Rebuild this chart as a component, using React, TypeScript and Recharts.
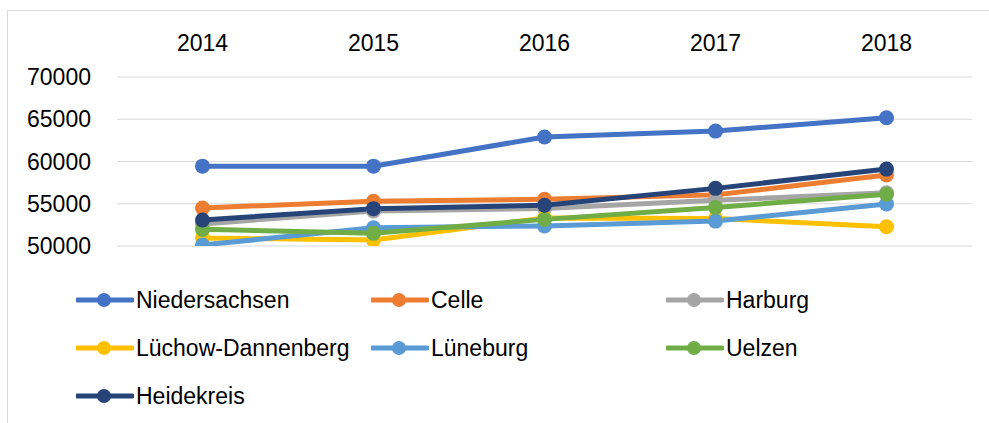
import { CartesianGrid, Line, LineChart, XAxis, YAxis } from "recharts";

const years = ["2014", "2015", "2016", "2017", "2018"];
const yTicks = [50000, 55000, 60000, 65000, 70000];

const niedersachsen = [59450, 59450, 62900, 63600, 65170];
const celle = [54500, 55300, 55520, 56050, 58400];
const harburg = [52600, 54150, 54450, 55400, 56300];
const luechowDannenberg = [50950, 50700, 53300, 53250, 52280];
const lueneburg = [50120, 52150, 52370, 52950, 54980];
const uelzen = [51970, 51500, 53150, 54570, 56120];
const heidekreis = [53080, 54420, 54830, 56820, 59100];

const series = [
  { name: "Niedersachsen", values: niedersachsen, color: "#4472c4" },
  { name: "Celle", values: celle, color: "#ed7d31" },
  { name: "Harburg", values: harburg, color: "#a5a5a5" },
  { name: "Lüchow-Dannenberg", values: luechowDannenberg, color: "#ffc000" },
  { name: "Lüneburg", values: lueneburg, color: "#5b9bd5" },
  { name: "Uelzen", values: uelzen, color: "#70ad47" },
  { name: "Heidekreis", values: heidekreis, color: "#264478" },
];

const data = years.map((year, i) => {
  const row: Record<string, string | number> = { year };
  series.forEach((s) => {
    row[s.name] = s.values[i];
  });
  return row;
});

const font = "'Liberation Sans', Arial, sans-serif";
const tick = { fill: "#000", fontSize: 23, fontFamily: font };

function ChartLegend() {
  return (
    <div style={{ position: "absolute", left: 0, top: 0, width: 989, height: 423, pointerEvents: "none" }}>
      {series.map((s, i) => {
        const col = i % 3;
        const row = Math.floor(i / 3);
        return (
          <div
            key={s.name}
            style={{
              position: "absolute",
              left: 76 + col * 295,
              top: 300 + row * 48 - 14,
              height: 28,
              display: "flex",
              alignItems: "center",
              fontFamily: font,
              fontSize: 23,
              color: "#000",
              whiteSpace: "nowrap",
            }}
          >
            <svg width={58} height={20} style={{ marginRight: 2 }}>
              <line x1={1} y1={10} x2={56} y2={10} stroke={s.color} strokeWidth={5} strokeLinecap="round" />
              <circle cx={28} cy={10} r={7} fill={s.color} />
            </svg>
            {s.name}
          </div>
        );
      })}
    </div>
  );
}

export default function App() {
  return (
    <div style={{ position: "absolute", left: 0, top: 0, width: 989, height: 423, overflow: "hidden", background: "#fff" }}>
      <div
        style={{
          position: "absolute",
          left: 7,
          top: 10,
          width: 1100,
          height: 600,
          border: "1px solid #d9d9d9",
        }}
      />
      <LineChart width={989} height={423} data={data} margin={{ top: 47, right: 17, bottom: 177, left: 0 }}>
        <CartesianGrid vertical={false} stroke="#d9d9d9" strokeWidth={1.2} />
        <XAxis
          dataKey="year"
          orientation="top"
          height={30}
          axisLine={false}
          tickLine={false}
          tickMargin={20}
          tick={tick}
          interval={0}
          padding={{ left: 85.5, right: 85.5 }}
        />
        <YAxis
          domain={[50000, 70000]}
          ticks={yTicks}
          width={117}
          axisLine={false}
          tickLine={false}
          tickMargin={20}
          tick={tick}
          allowDataOverflow
        />
        {series.map((s) => (
          <Line
            key={s.name}
            type="linear"
            dataKey={s.name}
            stroke={s.color}
            strokeWidth={5}
            dot={{ r: 7.5, fill: s.color, stroke: s.color, strokeWidth: 0 }}
            activeDot={false}
            isAnimationActive={false}
          />
        ))}
      </LineChart>
      <ChartLegend />
    </div>
  );
}
